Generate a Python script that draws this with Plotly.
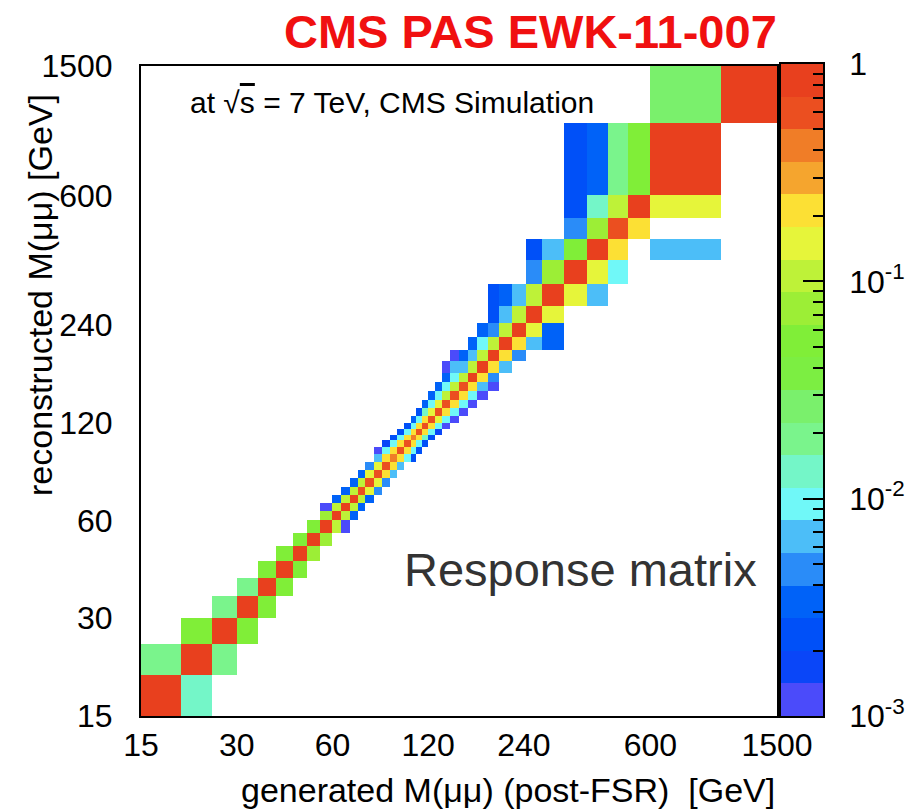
import math
import numpy as np
import plotly.graph_objects as go

# ---------------- data ----------------
mass_edges = [15, 20, 25, 30, 35, 40, 45, 50, 55, 60, 64, 68, 72, 76, 81, 86, 91, 96,
              101, 106, 110, 115, 120, 126, 133, 141, 150, 160, 171, 185, 200, 220,
              243, 273, 320, 380, 440, 510, 600, 1000, 1500]
tick_values = [15, 30, 60, 120, 240, 600, 1500]
tick_labels = ["15", "30", "60", "120", "240", "600", "1500"]

# response fractions: for each generated bin (column), the first reconstructed bin index
# and the fractions in consecutive reconstructed bins (None = empty)
col_start = [0, 0, 1, 2, 3, 4, 5, 6, 7, 8,
             8, 9, 10, 11, 12, 13, 14, 15, 16, 16,
             17, 18, 19, 20, 21, 22, 23, 24, 25, 26,
             28, 29, 30, 30, 33, 33, 34, 36, 35, 39]
col_values = [
    [0.88, 0.022],
    [0.013, 0.86, 0.05],
    [0.022, 0.86, 0.022],
    [0.05, 0.86, 0.022],
    [0.05, 0.86, 0.05],
    [0.05, 0.85, 0.05],
    [0.05, 0.85, 0.05],
    [0.075, 0.82, 0.05],
    [0.075, 0.80, 0.08, 0.0012],
    [0.09, 0.78, 0.10, 0.003],
    [0.0012, 0.10, 0.75, 0.10, 0.003],
    [0.003, 0.10, 0.72, 0.12, 0.003],
    [0.003, 0.12, 0.70, 0.12, 0.0035],
    [0.003, 0.13, 0.68, 0.15, 0.004],
    [0.004, 0.15, 0.65, 0.17, 0.006, 0.0012],
    [0.005, 0.18, 0.62, 0.19, 0.008, 0.0015],
    [0.007, 0.20, 0.45, 0.22, 0.009, 0.002],
    [0.007, 0.21, 0.58, 0.20, 0.010, 0.002],
    [0.008, 0.20, 0.60, 0.18, 0.009, 0.0025],
    [0.002, 0.010, 0.22, 0.50, 0.20, 0.010, 0.003],
    [0.002, 0.011, 0.21, 0.52, 0.21, 0.011, 0.0025],
    [0.0025, 0.012, 0.20, 0.55, 0.19, 0.012, 0.003],
    [0.002, 0.011, 0.18, 0.60, 0.17, 0.011, 0.003],
    [0.0018, 0.010, 0.17, 0.63, 0.15, 0.010, 0.003],
    [0.0012, 0.009, 0.19, 0.66, 0.11, 0.009, 0.003, 0.0012],
    [0.0012, 0.009, 0.20, 0.68, 0.10, 0.009, 0.0065, 0.0012],
    [0.0012, 0.009, 0.20, 0.70, 0.10, 0.0065, 0.003],
    [0.0012, 0.009, 0.20, 0.72, 0.10, 0.0065, 0.003],
    [0.0012, 0.0065, 0.20, 0.75, 0.10, 0.009, 0.003],
    [0.0012, 0.0045, 0.20, 0.76, 0.10, 0.0045, 0.0028, 0.0026],
    [0.0065, 0.20, 0.76, 0.10, 0.0065, 0.003],
    [0.0045, 0.20, 0.76, 0.11, 0.0065],
    [0.0065, 0.16, 0.78, 0.09, 0.0045, 0.0025],
    [0.003, 0.003, 0.15, 0.80, 0.08, 0.0065],
    [0.15, 0.80, 0.05, 0.0045, 0.0025, 0.0025],
    [0.0065, 0.15, 0.78, 0.08, 0.013, 0.0033],
    [0.009, 0.21, 0.62, 0.11, 0.022],
    [0.21, 0.74, 0.05],
    [0.007, None, 0.15, 0.80, 0.027],
    [0.95],
]

# palette (20 log-spaced levels, bottom -> top)
palette = ["#4B4BFA", "#0A46F8", "#0050F8", "#0062F8", "#2A8CF8", "#4CBEF8", "#70F8F8",
           "#74F6C8", "#7AF48C", "#7AF06C", "#7CEE42", "#80EE38", "#9CEE36", "#BEF238",
           "#E6F53A", "#FCE034", "#F5A52E", "#F07D27", "#EB4F20", "#E8401E"]
z_log_min, z_log_max = -3.0, 0.0

# ---------------- build ----------------
nb = len(mass_edges) - 1
Z = [[None] * nb for _ in range(nb)]
for j in range(nb):
    for k, v in enumerate(col_values[j]):
        if v:
            Z[col_start[j] + k][j] = math.log10(v)

n_lev = len(palette)
colorscale = []
for k, c in enumerate(palette):
    colorscale.append([k / n_lev, c])
    colorscale.append([(k + 1) / n_lev, c])

W, H = 913, 809
PX0, PX1 = 141, 777
PY0, PY1 = 66, 716
CBX0, CBX1 = 781, 823
CBY0 = 64

FONT = "Liberation Sans, Arial, Helvetica, sans-serif"

fig = go.Figure()
fig.add_trace(go.Heatmap(
    x=mass_edges, y=mass_edges, z=Z,
    colorscale=colorscale, zmin=z_log_min, zmax=z_log_max,
    showscale=False, hoverongaps=False, xaxis="x", yaxis="y",
))

# colour scale drawn as its own axis
lev_edges = np.logspace(z_log_min, z_log_max, n_lev + 1)
lev_centers = [[(math.log10(lev_edges[k]) + math.log10(lev_edges[k + 1])) / 2] for k in range(n_lev)]
fig.add_trace(go.Heatmap(
    x=[0, 1], y=lev_edges, z=lev_centers,
    colorscale=colorscale, zmin=z_log_min, zmax=z_log_max,
    showscale=False, xaxis="x2", yaxis="y2", hoverinfo="skip",
))

minor_vals = [m * 10 ** e for e in (-3, -2, -1) for m in range(2, 10)]

fig.update_layout(
    width=W, height=H,
    margin=dict(l=0, r=0, t=0, b=0, autoexpand=False),
    paper_bgcolor="white", plot_bgcolor="white",
    font=dict(family=FONT, color="black"),
    xaxis=dict(
        type="log", range=[math.log10(15), math.log10(1500)],
        domain=[PX0 / W, PX1 / W], anchor="y", automargin=False,
        tickvals=tick_values, ticktext=tick_labels, ticks="",
        tickfont=dict(size=32), ticklabelstandoff=0,
        showgrid=False, zeroline=False,
        showline=True, linecolor="black", linewidth=2, mirror=True,
    ),
    yaxis=dict(
        type="log", range=[math.log10(15), math.log10(1500)],
        domain=[1 - PY1 / H, 1 - PY0 / H], anchor="x", automargin=False,
        tickvals=tick_values, ticktext=tick_labels, ticks="",
        tickfont=dict(size=32), ticklabelstandoff=20,
        showgrid=False, zeroline=False,
        showline=True, linecolor="black", linewidth=2, mirror=True,
    ),
    xaxis2=dict(
        range=[0, 1], domain=[CBX0 / W, CBX1 / W], anchor="y2", automargin=False,
        showticklabels=False, ticks="", showgrid=False, zeroline=False,
        showline=True, linecolor="black", linewidth=1.5, mirror=True,
    ),
    yaxis2=dict(
        type="log", range=[z_log_min, z_log_max], automargin=False,
        domain=[1 - PY1 / H, 1 - CBY0 / H], anchor="x2", side="right",
        tickvals=[1e-3, 1e-2, 1e-1, 1],
        ticktext=["10<sup>-3</sup>", "10<sup>-2</sup>", "10<sup>-1</sup>", "1"],
        ticks="inside", ticklen=20, tickwidth=1.5, tickcolor="black",
        minor=dict(ticks="inside", ticklen=10, tickwidth=1.5, tickcolor="black",
                   tickmode="array", tickvals=minor_vals),
        tickfont=dict(size=32), ticklabelstandoff=18,
        showgrid=False, zeroline=False,
        showline=True, linecolor="black", linewidth=1.5, mirror=True,
    ),
    annotations=[
        dict(text="<b>CMS PAS EWK-11-007</b>", xref="paper", yref="paper",
             x=530 / W, y=1 - 31 / H, xanchor="center", yanchor="middle",
             showarrow=False, font=dict(size=47, color="#F01010", family=FONT)),
        dict(text="at √<span style='text-decoration:overline'>s</span> = 7 TeV, CMS Simulation",
             xref="paper", yref="paper",
             x=188 / W, y=1 - 102 / H, xanchor="left", yanchor="middle",
             showarrow=False, font=dict(size=30, color="black", family=FONT)),
        dict(text="Response matrix", xref="paper", yref="paper",
             x=402 / W, y=1 - 569 / H, xanchor="left", yanchor="middle",
             showarrow=False, font=dict(size=47, color="#333333", family=FONT)),
        dict(text="generated M(μμ) (post-FSR)  [GeV]", xref="paper", yref="paper",
             x=777 / W, y=1 - 790 / H, xanchor="right", yanchor="middle",
             showarrow=False, font=dict(size=34, color="black", family=FONT)),
        dict(text="reconstructed M(μμ) [GeV]", xref="paper", yref="paper",
             x=40 / W, y=1 - 295 / H, xanchor="center", yanchor="middle",
             textangle=-90,
             showarrow=False, font=dict(size=34, color="black", family=FONT)),
    ],
)

fig.write_html("out.html")
